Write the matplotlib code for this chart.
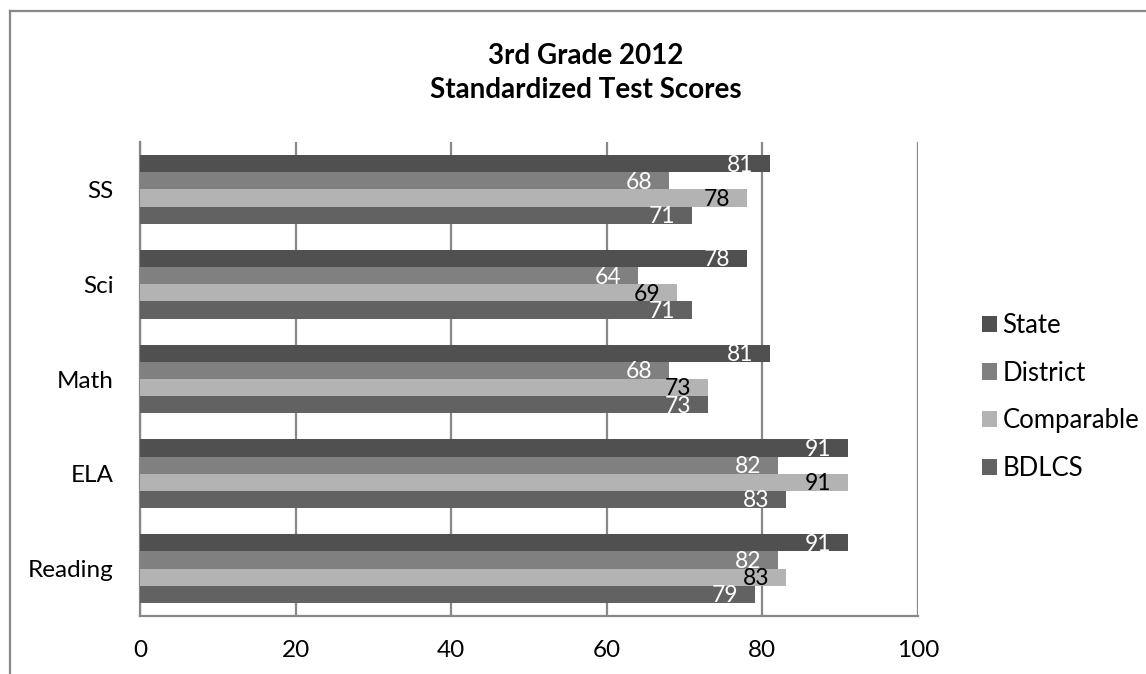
import numpy as np
import matplotlib
matplotlib.use("Agg")
import matplotlib.pyplot as plt
from matplotlib.patches import Patch
from matplotlib.lines import Line2D

plt.rcParams["font.family"] = ["Lato", "DejaVu Sans"]

# Scores per subject, listed bottom-to-top as they appear on the axis
subjects = ["Reading", "ELA", "Math", "Sci", "SS"]
state = [91, 91, 81, 78, 81]
district = [82, 82, 68, 64, 68]
comparable = [83, 91, 73, 69, 78]
bdlcs = [79, 83, 73, 71, 71]

series_names = ["State", "District", "Comparable", "BDLCS"]
series_vals = [state, district, comparable, bdlcs]
bar_colors = ["#505050", "#808080", "#b3b3b3", "#626262"]
label_colors = ["white", "white", "black", "white"]

fig = plt.figure(figsize=(11.46, 6.74), dpi=100)
ax = fig.add_axes([140 / 1146, 58 / 674, 778 / 1146, 474 / 674])

y = np.arange(len(subjects))
h = 0.181
offsets = [1.5 * h, 0.5 * h, -0.5 * h, -1.5 * h]

for name, vals, col, lcol, off in zip(series_names, series_vals, bar_colors, label_colors, offsets):
    bars = ax.barh(y + off, vals, height=h, color=col, zorder=3, label=name)
    for b, v in zip(bars, vals):
        ax.annotate(str(v), (v, b.get_y() + b.get_height() / 2), xytext=(-12, -1),
                    textcoords="offset points", ha="right", va="center",
                    color=lcol, fontsize=16.5, zorder=4)

ax.set_xlim(0, 100)
ax.set_ylim(-0.5, len(subjects) - 0.5)
ax.set_xticks([0, 20, 40, 60, 80, 100])
ax.set_yticks(y)
ax.set_yticklabels(subjects)
ax.tick_params(axis="both", length=0, labelsize=17.5)
ax.tick_params(axis="x", pad=17)
ax.tick_params(axis="y", pad=19)
ax.grid(axis="x", color="#888888", linewidth=1.6, zorder=0)

for side in ["top", "right"]:
    ax.spines[side].set_visible(False)
for side in ["left", "bottom"]:
    ax.spines[side].set_color("#888888")
    ax.spines[side].set_linewidth(1.6)

fig.text(586 / 1146, 1 - 73 / 674, "3rd Grade 2012\nStandardized Test Scores",
         ha="center", va="center", fontsize=20, fontweight="bold", linespacing=1.4)

handles = [Patch(facecolor=c, edgecolor="none") for c in bar_colors]
fig.legend(handles, series_names, loc="center left", bbox_to_anchor=(982 / 1146, 1 - 397 / 674),
           frameon=False, fontsize=18.5, handlelength=0.6, handleheight=0.6,
           handletextpad=0.2, labelspacing=0.88, borderpad=0, borderaxespad=0)

# outer chart border (only the top and left edges fall inside the image)
fig.add_artist(Line2D([10 / 1146, 10 / 1146], [0, 1 - 11 / 674], color="#888888", linewidth=1.6))
fig.add_artist(Line2D([10 / 1146, 1], [1 - 11 / 674, 1 - 11 / 674], color="#888888", linewidth=1.6))

fig.savefig("out.png", dpi=100)
